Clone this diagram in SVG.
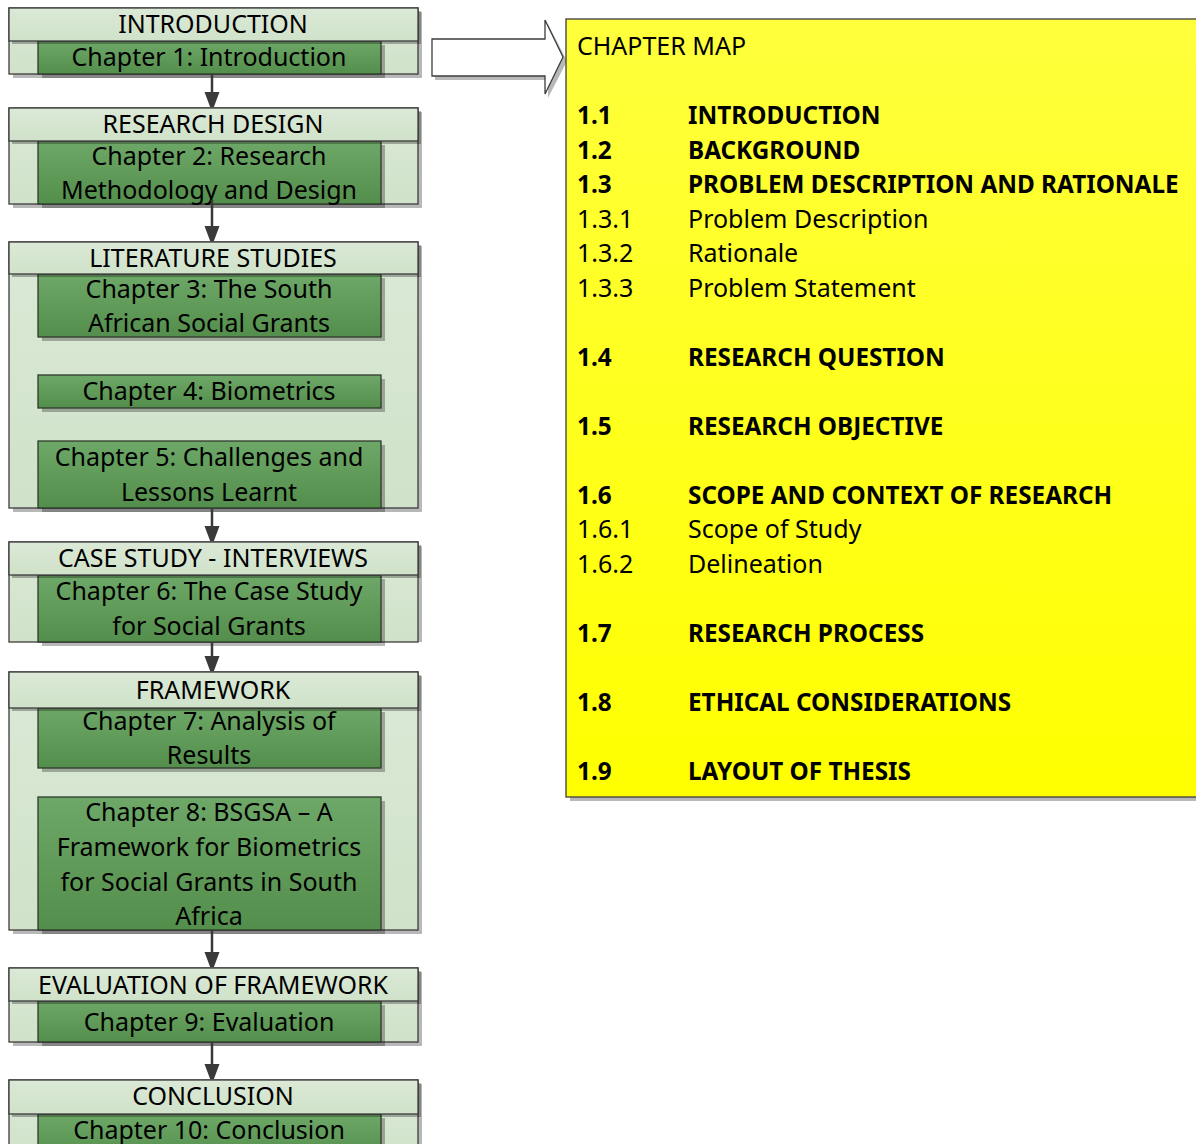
<svg xmlns="http://www.w3.org/2000/svg" width="1196" height="1144" viewBox="0 0 1196 1144">
<defs>
<linearGradient id="gDark" x1="0" y1="0" x2="0" y2="1"><stop offset="0" stop-color="#6ea868"/><stop offset="1" stop-color="#548e4c"/></linearGradient>
<linearGradient id="gLight" x1="0" y1="0" x2="0" y2="1"><stop offset="0" stop-color="#dbe9d6"/><stop offset="1" stop-color="#d0e2ca"/></linearGradient>
<linearGradient id="gYellow" x1="0" y1="0" x2="0" y2="1"><stop offset="0" stop-color="#ffff3c"/><stop offset="1" stop-color="#ffff00"/></linearGradient>
<marker id="ah" viewBox="0 0 15 20" refX="15" refY="7.5" markerWidth="15" markerHeight="20" markerUnits="userSpaceOnUse" orient="auto"><path d="M0,0 L20,7.5 L0,15 Z" fill="#3a3a3a"/></marker>
</defs>
<style>
.sh{fill:#000;fill-opacity:0.28}
.outer{fill:url(#gLight);stroke:#3c3c3c;stroke-width:1.3}
.head{fill:url(#gLight);stroke:#3c3c3c;stroke-width:1.3}
.inner{fill:url(#gDark);stroke:#2e3a2c;stroke-width:1.3}
text{font-family:"Noto Sans","Open Sans",sans-serif;font-size:25px;fill:#000}
.c{text-anchor:middle}
.b{font-weight:bold;font-size:24.3px}
.conn{stroke:#3a3a3a;stroke-width:2.5;fill:none}
</style>
<rect width="1196" height="1144" fill="#fff"/>

<g id="intro">
<rect class="sh" x="13" y="12" width="409" height="66"/>
<rect class="outer" x="9" y="8" width="409" height="66"/>
<rect class="sh" x="42" y="45" width="343" height="33"/>
<rect class="inner" x="38" y="41" width="343" height="33"/>
<rect class="sh" x="12" y="11" width="409" height="33"/>
<rect class="head" x="9" y="8" width="409" height="33"/>
<text class="c" x="213" y="33">INTRODUCTION</text>
<text class="c" x="209" y="66">Chapter 1: Introduction</text>
</g>

<g id="design">
<rect class="sh" x="13" y="112" width="409" height="96"/>
<rect class="outer" x="9" y="108" width="409" height="96"/>
<rect class="sh" x="42" y="145" width="343" height="63"/>
<rect class="inner" x="38" y="141" width="343" height="63"/>
<rect class="sh" x="12" y="111" width="409" height="33"/>
<rect class="head" x="9" y="108" width="409" height="33"/>
<text class="c" x="213" y="133">RESEARCH DESIGN</text>
<text class="c" x="209" y="165">Chapter 2: Research</text>
<text class="c" x="209" y="199">Methodology and Design</text>
</g>

<g id="literature">
<rect class="sh" x="13" y="246" width="409" height="266"/>
<rect class="outer" x="9" y="242" width="409" height="266"/>
<rect class="sh" x="42" y="278" width="343" height="63"/>
<rect class="inner" x="38" y="274" width="343" height="63"/>
<rect class="sh" x="42" y="379" width="343" height="33"/>
<rect class="inner" x="38" y="375" width="343" height="33"/>
<rect class="sh" x="42" y="445" width="343" height="67"/>
<rect class="inner" x="38" y="441" width="343" height="67"/>
<rect class="sh" x="12" y="245" width="409" height="32"/>
<rect class="head" x="9" y="242" width="409" height="32"/>
<text class="c" x="213" y="267">LITERATURE STUDIES</text>
<text class="c" x="209" y="298">Chapter 3: The South</text>
<text class="c" x="209" y="332">African Social Grants</text>
<text class="c" x="209" y="400">Chapter 4: Biometrics</text>
<text class="c" x="209" y="466">Chapter 5: Challenges and</text>
<text class="c" x="209" y="501">Lessons Learnt</text>
</g>

<g id="casestudy">
<rect class="sh" x="13" y="546" width="409" height="96"/>
<rect class="outer" x="9" y="542" width="409" height="100"/>
<rect class="sh" x="42" y="579" width="343" height="67"/>
<rect class="inner" x="38" y="575" width="343" height="67"/>
<rect class="sh" x="12" y="545" width="409" height="33"/>
<rect class="head" x="9" y="542" width="409" height="33"/>
<text class="c" x="213" y="567">CASE STUDY - INTERVIEWS</text>
<text class="c" x="209" y="600">Chapter 6: The Case Study</text>
<text class="c" x="209" y="635">for Social Grants</text>
</g>

<g id="framework">
<rect class="sh" x="13" y="676" width="409" height="258"/>
<rect class="outer" x="9" y="672" width="409" height="258"/>
<rect class="sh" x="42" y="712" width="343" height="60"/>
<rect class="inner" x="38" y="708" width="343" height="60"/>
<rect class="sh" x="42" y="801" width="343" height="133"/>
<rect class="inner" x="38" y="797" width="343" height="133"/>
<rect class="sh" x="12" y="675" width="409" height="36"/>
<rect class="head" x="9" y="672" width="409" height="36"/>
<text class="c" x="213" y="699">FRAMEWORK</text>
<text class="c" x="209" y="730">Chapter 7: Analysis of</text>
<text class="c" x="209" y="764">Results</text>
<text class="c" x="209" y="821">Chapter 8: BSGSA – A</text>
<text class="c" x="209" y="856">Framework for Biometrics</text>
<text class="c" x="209" y="891">for Social Grants in South</text>
<text class="c" x="209" y="925">Africa</text>
</g>

<g id="evaluation">
<rect class="sh" x="13" y="972" width="409" height="74"/>
<rect class="outer" x="9" y="968" width="409" height="74"/>
<rect class="sh" x="42" y="1005" width="343" height="41"/>
<rect class="inner" x="38" y="1001" width="343" height="41"/>
<rect class="sh" x="12" y="971" width="409" height="33"/>
<rect class="head" x="9" y="968" width="409" height="33"/>
<text class="c" x="213" y="994">EVALUATION OF FRAMEWORK</text>
<text class="c" x="209" y="1031">Chapter 9: Evaluation</text>
</g>

<g id="conclusion">
<rect class="sh" x="13" y="1084" width="409" height="80"/>
<rect class="outer" x="9" y="1080" width="409" height="80"/>
<rect class="sh" x="42" y="1118" width="343" height="46"/>
<rect class="inner" x="38" y="1114" width="343" height="46"/>
<rect class="sh" x="12" y="1083" width="409" height="34"/>
<rect class="head" x="9" y="1080" width="409" height="34"/>
<text class="c" x="213" y="1105">CONCLUSION</text>
<text class="c" x="209" y="1139">Chapter 10: Conclusion</text>
</g>

<g id="connectors">
<line class="conn" x1="212" y1="74" x2="212" y2="107" marker-end="url(#ah)"/>
<line class="conn" x1="212" y1="200" x2="212" y2="241" marker-end="url(#ah)"/>
<line class="conn" x1="212" y1="508" x2="212" y2="541" marker-end="url(#ah)"/>
<line class="conn" x1="212" y1="642" x2="212" y2="671" marker-end="url(#ah)"/>
<line class="conn" x1="212" y1="930" x2="212" y2="967" marker-end="url(#ah)"/>
<line class="conn" x1="212" y1="1042" x2="212" y2="1079" marker-end="url(#ah)"/>
</g>

<g id="blockarrow">
<path d="M435,43 L548,43 L548,24 L567,61 L548,98 L548,80 L435,80 Z" fill="#000" fill-opacity="0.28"/>
<path d="M432,39 L545,39 L545,20 L563,57 L545,94 L545,76 L432,76 Z" fill="#fff" stroke="#3c3c3c" stroke-width="1.3"/>
</g>

<g id="chaptermap">
<rect x="570" y="23" width="640" height="778" fill="#000" fill-opacity="0.28"/>
<rect x="566" y="19" width="640" height="778" fill="url(#gYellow)" stroke="#3c3c3c" stroke-width="1.3"/>
<text x="577" y="55">CHAPTER MAP</text>
<text class="b" x="577" y="124">1.1</text><text class="b" x="688" y="124">INTRODUCTION</text>
<text class="b" x="577" y="158.5">1.2</text><text class="b" x="688" y="158.5">BACKGROUND</text>
<text class="b" x="577" y="193">1.3</text><text class="b" x="688" y="193">PROBLEM DESCRIPTION AND RATIONALE</text>
<text x="577" y="227.5">1.3.1</text><text x="688" y="227.5">Problem Description</text>
<text x="577" y="262">1.3.2</text><text x="688" y="262">Rationale</text>
<text x="577" y="296.5">1.3.3</text><text x="688" y="296.5">Problem Statement</text>
<text class="b" x="577" y="365.5">1.4</text><text class="b" x="688" y="365.5">RESEARCH QUESTION</text>
<text class="b" x="577" y="434.5">1.5</text><text class="b" x="688" y="434.5">RESEARCH OBJECTIVE</text>
<text class="b" x="577" y="503.5">1.6</text><text class="b" x="688" y="503.5">SCOPE AND CONTEXT OF RESEARCH</text>
<text x="577" y="538">1.6.1</text><text x="688" y="538">Scope of Study</text>
<text x="577" y="572.5">1.6.2</text><text x="688" y="572.5">Delineation</text>
<text class="b" x="577" y="641.5">1.7</text><text class="b" x="688" y="641.5">RESEARCH PROCESS</text>
<text class="b" x="577" y="710.5">1.8</text><text class="b" x="688" y="710.5">ETHICAL CONSIDERATIONS</text>
<text class="b" x="577" y="779.5">1.9</text><text class="b" x="688" y="779.5">LAYOUT OF THESIS</text>
</g>
</svg>
